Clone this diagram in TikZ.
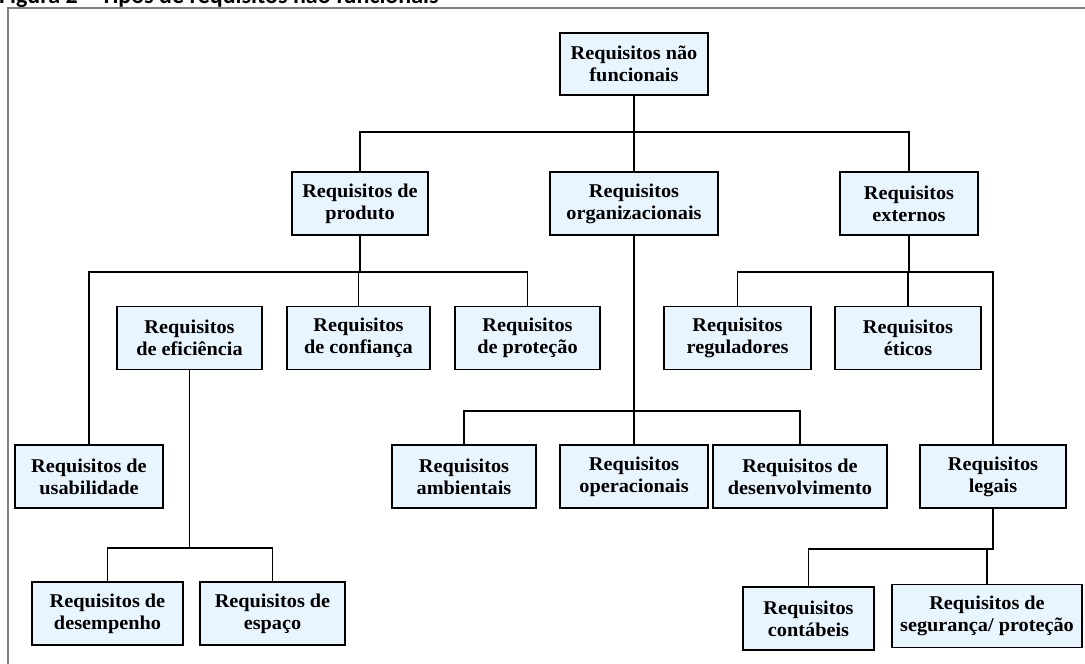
\documentclass[tikz,border=0pt]{standalone}
\usepackage{fontspec}
\setmainfont{Liberation Serif}[FakeStretch=1.04]
\newfontfamily\captionfont{Carlito}
\definecolor{boxfill}{HTML}{E8F4FE}
\definecolor{framegray}{HTML}{808080}
\begin{document}
\begin{tikzpicture}[x=1pt,y=-1pt,
  req/.style={draw=black, line width=1.7pt, fill=boxfill, align=center,
    font=\bfseries\fontsize{19.5}{22}\selectfont, inner sep=0pt,
    minimum height=63pt},
  link/.style={draw=black, line width=1.9pt}]
\clip (0,0) rectangle (1085,664);
\useasboundingbox (0,0) rectangle (1085,664);

% caption (its upper part runs off the top edge) and outer frame
\node[anchor=base west, inner sep=0pt,
  font=\captionfont\bfseries\fontsize{24}{26}\selectfont] (caption) at (-1,3.5)
  {Figura 2 – Tipos de requisitos não funcionais};
\draw[framegray, line width=1.5pt] (8,8) rectangle (1100,690);

% root
\node[req, minimum width=148pt, minimum height=62pt] (root) at (634,64)
  {Requisitos não\\funcionais};

% second level
\node[req, minimum width=136pt] (prod) at (360,203.5) {Requisitos de\\produto};
\node[req, minimum width=168pt] (org)  at (634,203.5) {Requisitos\\organizacionais};
\node[req, minimum width=138pt] (ext)  at (909,203.5) {Requisitos\\externos};

% product requirements
\node[req, minimum width=145pt] (efic) at (189.5,338) {Requisitos\\de eficiência};
\node[req, minimum width=143pt] (conf) at (358.5,338) {Requisitos\\de confiança};
\node[req, minimum width=145pt] (prot) at (527.5,338) {Requisitos\\de proteção};
\node[req, minimum width=148pt] (usab) at (89,476.5)  {Requisitos de\\usabilidade};
\node[req, minimum width=151pt] (desemp) at (107.5,613.5) {Requisitos de\\desempenho};
\node[req, minimum width=145pt] (espaco) at (272.5,613.5) {Requisitos de\\espaço};

% organizational requirements
\node[req, minimum width=144pt] (amb) at (464,476.5) {Requisitos\\ambientais};
\node[req, minimum width=148pt] (oper) at (634,476.5) {Requisitos\\operacionais};
\node[req, minimum width=174pt] (desenv) at (800,476.5) {Requisitos de\\desenvolvimento};

% external requirements
\node[req, minimum width=147pt] (regul) at (737.5,338) {Requisitos\\reguladores};
\node[req, minimum width=146pt] (etic)  at (908,338)   {Requisitos\\éticos};
\node[req, minimum width=146pt] (legal) at (993,476.5) {Requisitos\\legais};
\node[req, minimum width=131pt] (contab) at (808.5,618.5) {Requisitos\\contábeis};
\node[req, minimum width=190pt] (segur) at (987,616) {Requisitos de\\segurança/ proteção};

% connectors
\foreach \child in {prod,org,ext}
  \draw[link] (root.south) -- ++(0,36) -| (\child.north);
\foreach \child in {usab,conf,prot}
  \draw[link] (prod.south) -- ++(0,36) -| (\child.north);
\foreach \child in {desemp,espaco}
  \draw[link] (efic.south) -- ++(0,178) -| (\child.north);
\foreach \child in {amb,oper,desenv}
  \draw[link] (org.south) -- ++(0,175) -| (\child.north);
\foreach \child in {regul,etic,legal}
  \draw[link] (ext.south) -- ++(0,36) -| (\child.north);
\foreach \child in {contab,segur}
  \draw[link] (legal.south) -- ++(0,40) -| (\child.north);
\end{tikzpicture}
\end{document}
